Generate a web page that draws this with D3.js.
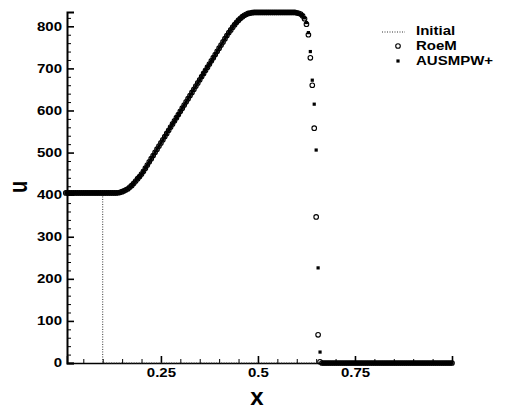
<!DOCTYPE html>
<html>
<head>
<meta charset="utf-8">
<script src="https://cdn.jsdelivr.net/npm/d3@7"></script>
<style>
body { margin: 0; background: #fff; }
svg { display: block; }
text { font-family: "Liberation Sans", Arial, Helvetica, sans-serif; font-weight: bold; fill: #000; }
</style>
</head>
<body>
<div id="chart"></div>
<script>
// cell size of the computed solution (cell centres 0.005 ... 1.0)
const dx = 0.005;

// velocity u, one value per cell
const roemU = [
  404, 404, 404, 404, 404, 404, 404, 404, 404, 404,
  404, 404, 404, 404, 404, 404, 404, 404, 404, 404,
  404, 404, 404, 404, 404, 404, 404, 404.5, 405.5, 407,
  409, 411.5, 414, 418, 422, 427, 432.5, 438, 443, 449,
  455.5, 463, 470.5, 478, 485.5, 493, 500.5, 508, 515.5, 523,
  530.5, 538, 545.5, 553, 560.5, 568, 575.5, 583, 590.5, 598,
  605.5, 613, 620.5, 628, 635.5, 643, 650.5, 658, 665.5, 673,
  680.5, 688, 695.5, 703, 710.5, 718, 725.5, 733, 740.5, 748,
  755.5, 763, 770.5, 778, 785, 791.5, 798, 804, 809.5, 814.5,
  819, 823, 826, 828.5, 830.5, 831.5, 832.5, 833, 833, 833,
  833, 833, 833, 833, 833, 833, 833, 833, 833, 833,
  833, 833, 833, 833, 833, 833, 833, 833, 833, 832,
  831, 829, 825, 818, 805, 780, 725, 660, 558, 347,
  67, 3, 0, 0, 0, 0, 0, 0, 0, 0,
  0, 0, 0, 0, 0, 0, 0, 0, 0, 0,
  0, 0, 0, 0, 0, 0, 0, 0, 0, 0,
  0, 0, 0, 0, 0, 0, 0, 0, 0, 0,
  0, 0, 0, 0, 0, 0, 0, 0, 0, 0,
  0, 0, 0, 0, 0, 0, 0, 0, 0, 0,
  0, 0, 0, 0, 0, 0, 0, 0, 0, 0
];

const ausmpwU = [
  404, 404, 404, 404, 404, 404, 404, 404, 404, 404,
  404, 404, 404, 404, 404, 404, 404, 404, 404, 404,
  404, 404, 404, 404, 404, 404, 404, 404.5, 405.5, 407,
  409, 411.5, 414, 418, 422, 427, 432.5, 438, 443, 449,
  455.5, 463, 470.5, 478, 485.5, 493, 500.5, 508, 515.5, 523,
  530.5, 538, 545.5, 553, 560.5, 568, 575.5, 583, 590.5, 598,
  605.5, 613, 620.5, 628, 635.5, 643, 650.5, 658, 665.5, 673,
  680.5, 688, 695.5, 703, 710.5, 718, 725.5, 733, 740.5, 748,
  755.5, 763, 770.5, 778, 785, 791.5, 798, 804, 809.5, 814.5,
  819, 823, 826, 828.5, 830.5, 831.5, 832.5, 833, 833, 833,
  833, 833, 833, 833, 833, 833, 833, 833, 833, 833,
  833, 833, 833, 833, 833, 833, 833, 833, 833, 832,
  831, 829, 826, 820, 809, 785, 740, 672, 615, 506,
  226, 26, 0, 0, 0, 0, 0, 0, 0, 0,
  0, 0, 0, 0, 0, 0, 0, 0, 0, 0,
  0, 0, 0, 0, 0, 0, 0, 0, 0, 0,
  0, 0, 0, 0, 0, 0, 0, 0, 0, 0,
  0, 0, 0, 0, 0, 0, 0, 0, 0, 0,
  0, 0, 0, 0, 0, 0, 0, 0, 0, 0,
  0, 0, 0, 0, 0, 0, 0, 0, 0, 0
];

// initial condition: a step at x = 0.1
const initialX = [0.008, 0.1, 0.1, 1.0];
const initialU = [400, 400, 0, 0];

const xMajor = [0.25, 0.5, 0.75];
const xMinor = [0.05, 0.1, 0.15, 0.2, 0.3, 0.35, 0.4, 0.45, 0.55, 0.6, 0.65, 0.7, 0.8, 0.85, 0.9, 0.95];
const yMajor = [0, 100, 200, 300, 400, 500, 600, 700, 800];
const yMinor = [20, 40, 60, 80, 120, 140, 160, 180, 220, 240, 260, 280, 320, 340, 360, 380,
  420, 440, 460, 480, 520, 540, 560, 580, 620, 640, 660, 680, 720, 740, 760, 780, 820];

const legendNames = ["Initial", "RoeM", "AUSMPW+"];

const width = 509, height = 410;
const stretch = "scale(1.25,1)";

let svg = d3.select("#chart")
    .append("svg")
    .attr("width", width)
    .attr("height", height);

let x = d3.scaleLinear().domain([0.008, 1]).range([67, 452]);
let y = d3.scaleLinear().domain([0, 834]).range([363, 12]);

let roem = roemU.map((u, i) => ({x: (i + 1) * dx, u: u}));
let ausmpw = ausmpwU.map((u, i) => ({x: (i + 1) * dx, u: u}));

// axes (ticks point inward)
let xAxis = svg.append("g")
    .attr("transform", "translate(0," + y(0) + ")")
    .call(d3.axisBottom(x).tickValues(xMajor).tickSize(-7).tickPadding(5.5)
        .tickFormat(d => d === 0.5 ? "0.5" : d));
xAxis.select(".domain").attr("stroke-width", 1.6);
xAxis.selectAll(".tick line").attr("stroke-width", 1.6);
xAxis.selectAll("text").attr("font-size", 12).attr("transform", stretch);

svg.append("g")
    .attr("transform", "translate(0," + y(0) + ")")
    .call(d3.axisBottom(x).tickValues(xMinor).tickSize(-4).tickFormat(""))
    .call(g => g.select(".domain").remove());

let yAxis = svg.append("g")
    .attr("transform", "translate(" + x.range()[0] + ",0)")
    .call(d3.axisLeft(y).tickValues(yMajor).tickSize(-7).tickPadding(4));
yAxis.select(".domain").attr("stroke-width", 2);
yAxis.selectAll(".tick line").attr("stroke-width", 1.6);
yAxis.selectAll("text").attr("font-size", 12).attr("transform", stretch);

svg.append("g")
    .attr("transform", "translate(" + x.range()[0] + ",0)")
    .call(d3.axisLeft(y).tickValues(yMinor).tickSize(-4).tickFormat(""))
    .call(g => g.select(".domain").remove());

// initial condition, dotted
let line = d3.line().x(d => x(d[0])).y(d => y(d[1]));
svg.append("path")
    .attr("d", line(initialX.map((v, i) => [v, initialU[i]])))
    .attr("fill", "none")
    .attr("stroke", "#333")
    .attr("stroke-width", 1)
    .attr("stroke-dasharray", "1,1.5");

// RoeM: open circles
svg.append("g")
    .selectAll("circle")
    .data(roem)
    .enter()
    .append("circle")
    .attr("cx", d => x(d.x))
    .attr("cy", d => y(d.u))
    .attr("r", 2.3)
    .attr("fill", "none")
    .attr("stroke", "#000")
    .attr("stroke-width", 1.1);

// AUSMPW+: small filled squares
svg.append("g")
    .selectAll("rect")
    .data(ausmpw)
    .enter()
    .append("rect")
    .attr("x", d => x(d.x) - 1.6)
    .attr("y", d => y(d.u) - 1.6)
    .attr("width", 3.2)
    .attr("height", 3.2)
    .attr("fill", "#000");

// axis titles
svg.append("text")
    .attr("transform", "translate(27,187) scale(1.3,1) rotate(-90)")
    .attr("text-anchor", "middle")
    .attr("font-size", 20)
    .text("u");

svg.append("text")
    .attr("transform", "translate(257,405)")
    .attr("text-anchor", "middle")
    .attr("font-size", 24)
    .text("x");

// legend
let legend = svg.append("g");
legend.append("line")
    .attr("x1", 382).attr("x2", 405)
    .attr("y1", 32).attr("y2", 32)
    .attr("stroke", "#333")
    .attr("stroke-dasharray", "1,1.5");
legend.append("circle")
    .attr("cx", 398).attr("cy", 46).attr("r", 2.3)
    .attr("fill", "none").attr("stroke", "#000").attr("stroke-width", 1.1);
legend.append("rect")
    .attr("x", 396.4).attr("y", 59.4).attr("width", 3.2).attr("height", 3.2)
    .attr("fill", "#000");
legend.selectAll("text")
    .data(legendNames)
    .enter()
    .append("text")
    .attr("transform", (d, i) => "translate(416," + (35 + i * 15) + ") " + stretch)
    .attr("font-size", 12)
    .text(d => d);
</script>
</body>
</html>
